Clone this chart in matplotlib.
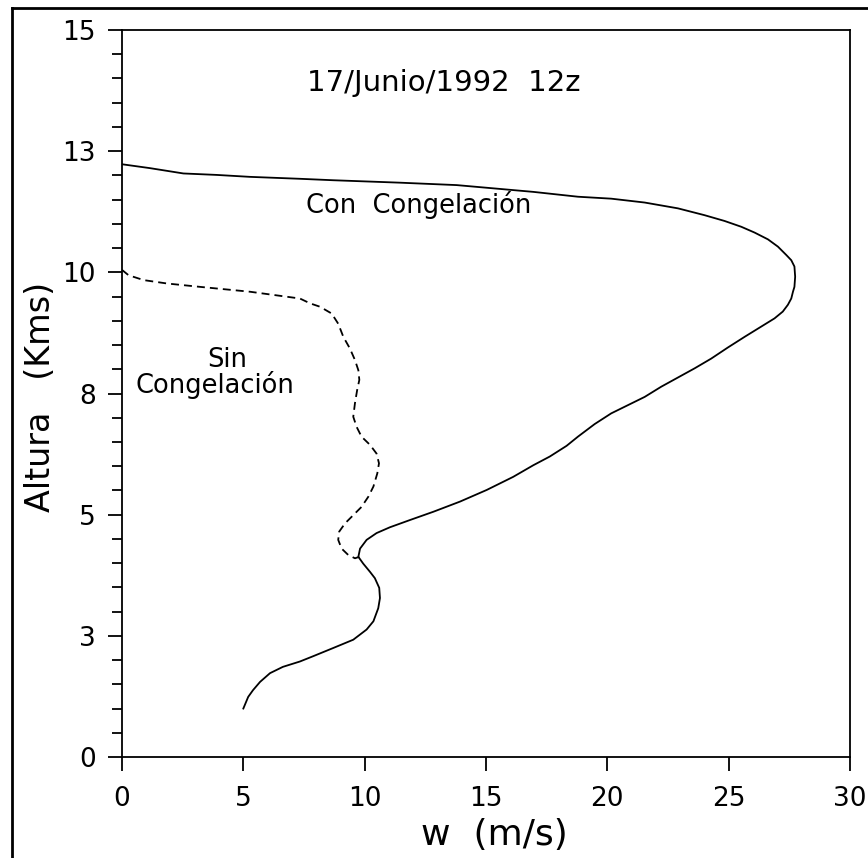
import matplotlib
matplotlib.use("Agg")
import matplotlib.pyplot as plt
from matplotlib.lines import Line2D
from matplotlib.ticker import MultipleLocator, FixedLocator

# -----------------------------
# Data
# -----------------------------

# "Con Congelacion" (solid), from the bottom of the profile to the top
con_w = [5.0, 5.2, 5.4, 5.69, 6.1, 6.63, 7.33, 7.88, 8.71, 9.53, 10.08,
         10.36, 10.56, 10.63, 10.6, 10.42, 10.22, 9.94, 9.74, 9.81, 10.08,
         10.49, 11.04, 11.87, 12.83, 13.93, 15.03, 16.12, 16.95, 17.63,
         18.32, 18.79, 19.48, 20.16, 20.85, 21.54, 22.22, 22.91, 23.6,
         24.28, 24.97, 25.66, 26.34, 26.89, 27.23, 27.44, 27.58, 27.65,
         27.71, 27.74, 27.71, 27.58, 27.37, 27.03, 26.62, 26.07, 25.52,
         24.83, 24.0, 22.91, 21.54, 20.16, 18.79, 16.95, 13.79, 11.45,
         8.71, 7.33, 5.27, 3.9, 2.53, 1.15, 0.0]
con_z = [1.0, 1.24, 1.38, 1.55, 1.73, 1.86, 1.97, 2.08, 2.25, 2.42, 2.63,
         2.8, 3.07, 3.28, 3.49, 3.69, 3.82, 3.99, 4.13, 4.3, 4.48,
         4.62, 4.74, 4.89, 5.06, 5.27, 5.51, 5.78, 6.02, 6.2,
         6.42, 6.61, 6.87, 7.09, 7.26, 7.43, 7.64, 7.83, 8.02,
         8.22, 8.45, 8.67, 8.88, 9.05, 9.19, 9.33, 9.46, 9.6,
         9.7, 9.91, 10.12, 10.25, 10.36, 10.53, 10.68, 10.82, 10.94,
         11.06, 11.18, 11.32, 11.44, 11.52, 11.56, 11.66, 11.8, 11.85,
         11.9, 11.93, 11.97, 12.01, 12.04, 12.15, 12.23]

# "Sin Congelacion" (dashed), from the top down to where it joins the solid one
sin_w = [0.0, 0.27, 0.89, 1.85, 3.22, 5.27, 7.33, 7.75, 8.16, 8.64, 8.91,
         9.12, 9.39, 9.6, 9.74, 9.78, 9.69, 9.6, 9.53, 9.67, 9.87, 10.22,
         10.49, 10.59, 10.52, 10.36, 10.15, 9.87, 9.53, 9.19, 8.95, 8.91,
         9.05, 9.32, 9.6, 9.78]
sin_z = [10.05, 9.94, 9.84, 9.77, 9.7, 9.6, 9.46, 9.36, 9.29, 9.15, 8.94,
         8.67, 8.43, 8.19, 7.98, 7.78, 7.57, 7.3, 7.02, 6.81, 6.61, 6.44,
         6.26, 6.06, 5.85, 5.58, 5.37, 5.16, 4.99, 4.82, 4.65, 4.48,
         4.3, 4.17, 4.1, 4.13]

x_ticks = [0, 5, 10, 15, 20, 25, 30]
y_ticks = [0, 2.5, 5, 7.5, 10, 12.5, 15]
y_tick_labels = ["0", "3", "5", "8", "10", "13", "15"]

# -----------------------------
# Figure
# -----------------------------

W, H = 868, 858
fig = plt.figure(figsize=(W / 100, H / 100), dpi=100)
ax = fig.add_axes([122 / W, 1 - 757 / H, 728 / W, 727 / H])

ax.plot(con_w, con_z, color="black", lw=1.3)
ax.plot(sin_w, sin_z, color="black", lw=1.3, dashes=(4.4, 2.8))

ax.set_xlim(0, 30)
ax.set_ylim(0, 15)

ax.xaxis.set_major_locator(FixedLocator(x_ticks))
ax.set_yticks(y_ticks)
ax.set_yticklabels(y_tick_labels)
ax.yaxis.set_minor_locator(MultipleLocator(0.5))

ax.tick_params(axis="x", which="major", direction="out", length=10,
               width=1.3, pad=11, labelsize=19)
ax.tick_params(axis="y", which="major", direction="out", length=10,
               width=1.3, pad=9, labelsize=19)
ax.tick_params(axis="y", which="minor", direction="out", length=7.5,
               width=1.3)

for side in ax.spines.values():
    side.set_linewidth(1.3)

# annotations
ax.text(13.27, 13.74, "17/Junio/1992  12z", fontsize=21,
        ha="center", va="baseline")
ax.text(12.24, 11.22, "Con  Congelación", fontsize=18.5,
        ha="center", va="baseline")
ax.text(4.33, 8.05, "Sin", fontsize=18.5, ha="center", va="baseline")
ax.text(3.83, 7.51, "Congelación", fontsize=18.5, ha="center", va="baseline")

# axis titles
fig.text(494.5 / W, 1 - 845 / H, "w  (m/s)", fontsize=26,
         ha="center", va="baseline")
fig.text(41 / W, 1 - 397 / H, "Altura   (Kms)", fontsize=24,
         rotation=90, ha="center", va="center")

# partial outer frame of the scanned page
fig.add_artist(Line2D([12 / W, 1.0], [1 - 8 / H, 1 - 8 / H],
                      transform=fig.transFigure, color="black", lw=2))
fig.add_artist(Line2D([12 / W, 12 / W], [0.0, 1 - 8 / H],
                      transform=fig.transFigure, color="black", lw=2))

fig.savefig("out.png", dpi=100)
